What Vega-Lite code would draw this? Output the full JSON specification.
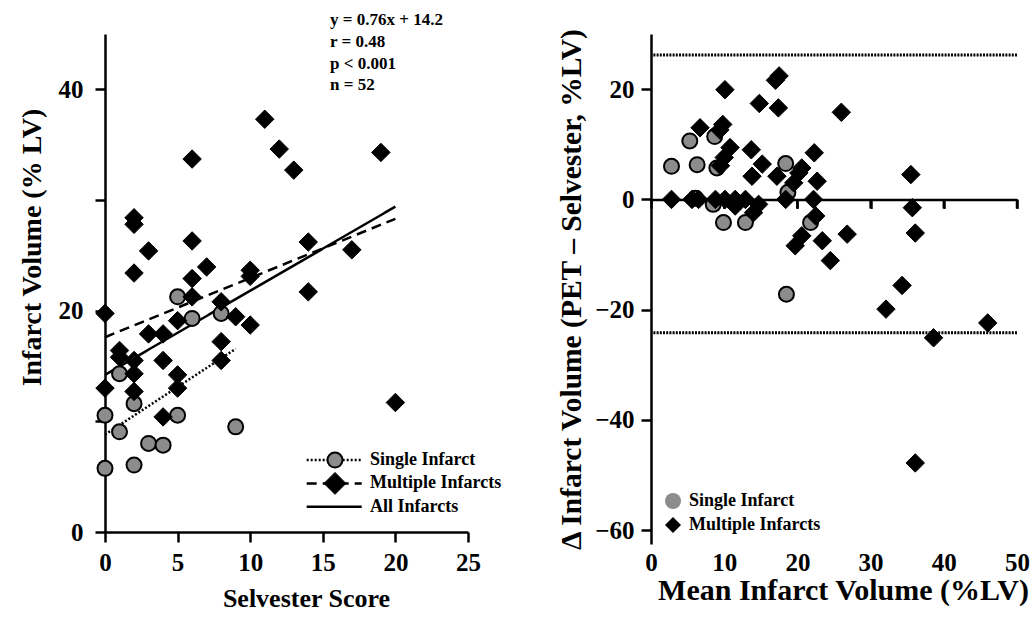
{
  "$schema": "https://vega.github.io/schema/vega-lite/v6.json",
  "background": "white",
  "padding": {"left": 18, "top": 11, "right": 5, "bottom": 5},
  "bounds": "flush",
  "spacing": 183,
  "resolve": {"scale": {"shape": "independent", "fill": "independent", "strokeDash": "independent", "yOffset": "independent"}},
  "config": {
    "view": {"stroke": null},
    "font": "Liberation Serif",
    "axis": {
      "labelFont": "Liberation Serif", "labelFontWeight": "bold", "labelFontSize": 25, "labelColor": "black",
      "titleFont": "Liberation Serif", "titleFontWeight": "bold", "titleFontSize": 27, "titleColor": "black",
      "domainColor": "black", "domainWidth": 2.5, "tickColor": "black", "tickWidth": 2.5, "tickSize": 10,
      "grid": false, "labelFlush": false, "labelOverlap": false
    },
    "legend": {
      "labelFont": "Liberation Serif", "labelFontWeight": "bold", "labelFontSize": 18, "labelColor": "black",
      "symbolStrokeColor": "black", "symbolOpacity": 1
    }
  },
  "datasets": {
    "leftPts": [
      {"group": "Single Infarct", "score": 5, "volume": 21.25},
      {"group": "Single Infarct", "score": 6, "volume": 19.3},
      {"group": "Single Infarct", "score": 8, "volume": 19.75},
      {"group": "Single Infarct", "score": 1, "volume": 14.3},
      {"group": "Single Infarct", "score": 2, "volume": 11.6},
      {"group": "Single Infarct", "score": 0, "volume": 10.55},
      {"group": "Single Infarct", "score": 5, "volume": 10.55},
      {"group": "Single Infarct", "score": 9, "volume": 9.5},
      {"group": "Single Infarct", "score": 1, "volume": 9.05},
      {"group": "Single Infarct", "score": 3, "volume": 8.0},
      {"group": "Single Infarct", "score": 4, "volume": 7.85},
      {"group": "Single Infarct", "score": 0, "volume": 5.75},
      {"group": "Single Infarct", "score": 2, "volume": 6.05},
      {"group": "Multiple Infarcts", "score": 11, "volume": 37.3},
      {"group": "Multiple Infarcts", "score": 12, "volume": 34.6},
      {"group": "Multiple Infarcts", "score": 13, "volume": 32.7},
      {"group": "Multiple Infarcts", "score": 6, "volume": 33.7},
      {"group": "Multiple Infarcts", "score": 19, "volume": 34.3},
      {"group": "Multiple Infarcts", "score": 2, "volume": 28.4},
      {"group": "Multiple Infarcts", "score": 2, "volume": 27.8},
      {"group": "Multiple Infarcts", "score": 3, "volume": 25.4},
      {"group": "Multiple Infarcts", "score": 6, "volume": 26.3},
      {"group": "Multiple Infarcts", "score": 7, "volume": 23.95},
      {"group": "Multiple Infarcts", "score": 14, "volume": 26.2},
      {"group": "Multiple Infarcts", "score": 17, "volume": 25.5},
      {"group": "Multiple Infarcts", "score": 2, "volume": 23.4},
      {"group": "Multiple Infarcts", "score": 6, "volume": 22.9},
      {"group": "Multiple Infarcts", "score": 10, "volume": 23.65},
      {"group": "Multiple Infarcts", "score": 10, "volume": 23.1},
      {"group": "Multiple Infarcts", "score": 14, "volume": 21.7},
      {"group": "Multiple Infarcts", "score": 0, "volume": 19.75},
      {"group": "Multiple Infarcts", "score": 6, "volume": 21.25},
      {"group": "Multiple Infarcts", "score": 5, "volume": 19.1},
      {"group": "Multiple Infarcts", "score": 8, "volume": 20.8},
      {"group": "Multiple Infarcts", "score": 9, "volume": 19.45},
      {"group": "Multiple Infarcts", "score": 10, "volume": 18.7},
      {"group": "Multiple Infarcts", "score": 3, "volume": 17.9},
      {"group": "Multiple Infarcts", "score": 4, "volume": 17.9},
      {"group": "Multiple Infarcts", "score": 1, "volume": 16.4},
      {"group": "Multiple Infarcts", "score": 1, "volume": 15.8},
      {"group": "Multiple Infarcts", "score": 8, "volume": 17.2},
      {"group": "Multiple Infarcts", "score": 8, "volume": 15.5},
      {"group": "Multiple Infarcts", "score": 2, "volume": 15.5},
      {"group": "Multiple Infarcts", "score": 4, "volume": 15.5},
      {"group": "Multiple Infarcts", "score": 2, "volume": 14.3},
      {"group": "Multiple Infarcts", "score": 5, "volume": 14.2},
      {"group": "Multiple Infarcts", "score": 0, "volume": 13.0},
      {"group": "Multiple Infarcts", "score": 2, "volume": 12.7},
      {"group": "Multiple Infarcts", "score": 5, "volume": 13.0},
      {"group": "Multiple Infarcts", "score": 4, "volume": 10.4},
      {"group": "Multiple Infarcts", "score": 20, "volume": 11.7}
    ],
    "fits": [
      {"group": "Single Infarct", "score": 0, "volume": 8.8},
      {"group": "Single Infarct", "score": 9, "volume": 16.55},
      {"group": "Multiple Infarcts", "score": 0, "volume": 17.6},
      {"group": "Multiple Infarcts", "score": 20, "volume": 28.3},
      {"group": "All Infarcts", "score": 0, "volume": 14.2},
      {"group": "All Infarcts", "score": 20, "volume": 29.4}
    ],
    "legendItems": [
      {"item": "Single Infarct"},
      {"item": "Multiple Infarcts"},
      {"item": "All Infarcts"}
    ],
    "notes": [
      {"note": "y = 0.76x + 14.2"},
      {"note": "\u00a0r = 0.48"},
      {"note": "p < 0.001"},
      {"note": "n = 52"}
    ],
    "zeroTicks": [
      {"mean": 10}, {"mean": 20}, {"mean": 30}, {"mean": 40}, {"mean": 50}
    ],
    "rightPts": [
      {"group": "Single Infarct", "mean": 5.3, "diff": 10.6},
      {"group": "Single Infarct", "mean": 8.7, "diff": 11.4},
      {"group": "Single Infarct", "mean": 2.8, "diff": 6.0},
      {"group": "Single Infarct", "mean": 6.3, "diff": 6.3},
      {"group": "Single Infarct", "mean": 9.0, "diff": 5.7},
      {"group": "Single Infarct", "mean": 18.4, "diff": 6.5},
      {"group": "Single Infarct", "mean": 18.7, "diff": 1.3},
      {"group": "Single Infarct", "mean": 6.1, "diff": 0.2},
      {"group": "Single Infarct", "mean": 8.5, "diff": -0.9},
      {"group": "Single Infarct", "mean": 9.9, "diff": -4.2},
      {"group": "Single Infarct", "mean": 12.9, "diff": -4.2},
      {"group": "Single Infarct", "mean": 21.8, "diff": -4.2},
      {"group": "Single Infarct", "mean": 18.5, "diff": -17.2},
      {"group": "Multiple Infarcts", "mean": 10.1, "diff": 19.9},
      {"group": "Multiple Infarcts", "mean": 17.0, "diff": 21.6},
      {"group": "Multiple Infarcts", "mean": 17.5, "diff": 22.4},
      {"group": "Multiple Infarcts", "mean": 14.8, "diff": 17.4},
      {"group": "Multiple Infarcts", "mean": 17.4, "diff": 16.6},
      {"group": "Multiple Infarcts", "mean": 26.0, "diff": 15.8},
      {"group": "Multiple Infarcts", "mean": 6.7, "diff": 13.0},
      {"group": "Multiple Infarcts", "mean": 9.8, "diff": 13.6},
      {"group": "Multiple Infarcts", "mean": 9.4, "diff": 12.6},
      {"group": "Multiple Infarcts", "mean": 10.8, "diff": 9.4},
      {"group": "Multiple Infarcts", "mean": 10.0, "diff": 7.6},
      {"group": "Multiple Infarcts", "mean": 9.5, "diff": 6.1},
      {"group": "Multiple Infarcts", "mean": 13.7, "diff": 9.0},
      {"group": "Multiple Infarcts", "mean": 22.3, "diff": 8.45},
      {"group": "Multiple Infarcts", "mean": 15.2, "diff": 6.4},
      {"group": "Multiple Infarcts", "mean": 20.6, "diff": 5.7},
      {"group": "Multiple Infarcts", "mean": 13.8, "diff": 4.2},
      {"group": "Multiple Infarcts", "mean": 17.2, "diff": 4.2},
      {"group": "Multiple Infarcts", "mean": 20.2, "diff": 4.8},
      {"group": "Multiple Infarcts", "mean": 19.5, "diff": 3.0},
      {"group": "Multiple Infarcts", "mean": 22.7, "diff": 3.3},
      {"group": "Multiple Infarcts", "mean": 35.5, "diff": 4.5},
      {"group": "Multiple Infarcts", "mean": 2.8, "diff": 0},
      {"group": "Multiple Infarcts", "mean": 5.6, "diff": 0},
      {"group": "Multiple Infarcts", "mean": 6.5, "diff": 0},
      {"group": "Multiple Infarcts", "mean": 8.8, "diff": 0},
      {"group": "Multiple Infarcts", "mean": 10.1, "diff": 0},
      {"group": "Multiple Infarcts", "mean": 11.5, "diff": 0},
      {"group": "Multiple Infarcts", "mean": 12.9, "diff": 0},
      {"group": "Multiple Infarcts", "mean": 18.4, "diff": 0},
      {"group": "Multiple Infarcts", "mean": 22.2, "diff": 0},
      {"group": "Multiple Infarcts", "mean": 11.5, "diff": -1.2},
      {"group": "Multiple Infarcts", "mean": 14.7, "diff": -0.9},
      {"group": "Multiple Infarcts", "mean": 14.0, "diff": -2.4},
      {"group": "Multiple Infarcts", "mean": 35.7, "diff": -1.5},
      {"group": "Multiple Infarcts", "mean": 22.5, "diff": -3.0},
      {"group": "Multiple Infarcts", "mean": 20.6, "diff": -6.6},
      {"group": "Multiple Infarcts", "mean": 19.7, "diff": -8.4},
      {"group": "Multiple Infarcts", "mean": 23.4, "diff": -7.5},
      {"group": "Multiple Infarcts", "mean": 26.8, "diff": -6.3},
      {"group": "Multiple Infarcts", "mean": 36.1, "diff": -6.1},
      {"group": "Multiple Infarcts", "mean": 24.5, "diff": -11.1},
      {"group": "Multiple Infarcts", "mean": 34.3, "diff": -15.6},
      {"group": "Multiple Infarcts", "mean": 32.1, "diff": -19.9},
      {"group": "Multiple Infarcts", "mean": 38.6, "diff": -25.1},
      {"group": "Multiple Infarcts", "mean": 46.0, "diff": -22.4},
      {"group": "Multiple Infarcts", "mean": 36.1, "diff": -47.8}
    ],
    "limits": [
      {"limit": "upper", "diff": 26.2},
      {"limit": "lower", "diff": -24.2}
    ]
  },
  "hconcat": [
    {
      "width": 363,
      "height": 498,
      "resolve": {"scale": {"yOffset": "independent"}},
      "layer": [
        {
          "data": {"name": "fits"},
          "mark": {"type": "line", "color": "black", "strokeWidth": 2.5},
          "encoding": {
            "x": {"field": "score", "type": "quantitative", "scale": {"domain": [0, 25], "nice": false},
                  "axis": {"values": [0, 5, 10, 15, 20, 25], "title": "Selvester Score", "titleFontSize": 26, "titleX": 201, "labelPadding": 8, "titlePadding": 10}},
            "y": {"field": "volume", "type": "quantitative", "scale": {"domain": [0, 45], "nice": false},
                  "axis": {"values": [0, 10, 20, 30, 40], "labelExpr": "datum.value % 20 === 0 ? datum.label : ''", "title": "Infarct Volume (% LV)", "titleFontSize": 28, "titleY": 213, "labelPadding": 12, "titlePadding": 12}},
            "detail": {"field": "group"},
            "strokeDash": {"field": "group", "type": "nominal",
              "scale": {"domain": ["Single Infarct", "Multiple Infarcts", "All Infarcts"], "range": [[2, 2], [10, 6], [1, 0]]},
              "legend": null}
          }
        },
        {
          "data": {"name": "leftPts"},
          "transform": [{"filter": "datum.group === 'Single Infarct'"}],
          "mark": {"type": "point", "shape": "circle", "filled": true, "fill": "#8c8c8c", "stroke": "black", "strokeWidth": 2, "size": 225, "opacity": 1},
          "encoding": {
            "x": {"field": "score", "type": "quantitative"},
            "y": {"field": "volume", "type": "quantitative"}
          }
        },
        {
          "data": {"name": "leftPts"},
          "transform": [{"filter": "datum.group === 'Multiple Infarcts'"}],
          "mark": {"type": "point", "shape": "diamond", "filled": true, "fill": "black", "stroke": "black", "strokeWidth": 1, "size": 340, "opacity": 1},
          "encoding": {
            "x": {"field": "score", "type": "quantitative"},
            "y": {"field": "volume", "type": "quantitative"}
          }
        },
        {
          "data": {"name": "legendItems"},
          "layer": [
            {
              "mark": {"type": "rule", "color": "black", "strokeWidth": 2.5},
              "encoding": {
                "x": {"datum": 13.89, "type": "quantitative"},
                "x2": {"datum": 17.68},
                "y": {"datum": 6.5, "type": "quantitative"},
                "yOffset": {"field": "item", "type": "nominal", "sort": null,
                  "scale": {"type": "point", "domain": ["Single Infarct", "Multiple Infarcts", "All Infarcts"], "range": [0, 46.7], "padding": 0}},
                "strokeDash": {"field": "item", "type": "nominal",
                  "scale": {"domain": ["Single Infarct", "Multiple Infarcts", "All Infarcts"], "range": [[2, 2], [8, 8], [1, 0]]},
                  "legend": null}
              }
            },
            {
              "transform": [{"filter": "datum.item === 'Single Infarct'"}],
              "mark": {"type": "point", "shape": "circle", "filled": true, "fill": "#8c8c8c", "stroke": "black", "strokeWidth": 2, "size": 225, "opacity": 1},
              "encoding": {
                "x": {"datum": 15.84, "type": "quantitative"},
                "y": {"datum": 6.5, "type": "quantitative"},
                "yOffset": {"field": "item", "type": "nominal", "sort": null,
                  "scale": {"type": "point", "domain": ["Single Infarct", "Multiple Infarcts", "All Infarcts"], "range": [0, 46.7], "padding": 0}}
              }
            },
            {
              "transform": [{"filter": "datum.item === 'Multiple Infarcts'"}],
              "mark": {"type": "point", "shape": "diamond", "filled": true, "fill": "black", "stroke": "black", "strokeWidth": 1, "size": 480, "opacity": 1},
              "encoding": {
                "x": {"datum": 15.84, "type": "quantitative"},
                "y": {"datum": 6.5, "type": "quantitative"},
                "yOffset": {"field": "item", "type": "nominal", "sort": null,
                  "scale": {"type": "point", "domain": ["Single Infarct", "Multiple Infarcts", "All Infarcts"], "range": [0, 46.7], "padding": 0}}
              }
            },
            {
              "mark": {"type": "text", "align": "left", "baseline": "middle", "font": "Liberation Serif", "fontWeight": "bold", "fontSize": 18, "color": "black"},
              "encoding": {
                "x": {"datum": 18.25, "type": "quantitative"},
                "y": {"datum": 6.5, "type": "quantitative"},
                "yOffset": {"field": "item", "type": "nominal", "sort": null,
                  "scale": {"type": "point", "domain": ["Single Infarct", "Multiple Infarcts", "All Infarcts"], "range": [0, 46.7], "padding": 0}},
                "text": {"field": "item", "type": "nominal"}
              }
            }
          ]
        },
        {
          "data": {"name": "notes"},
          "mark": {"type": "text", "align": "left", "baseline": "alphabetic", "font": "Liberation Serif", "fontWeight": "bold", "fontSize": 17, "color": "black"},
          "encoding": {
            "x": {"datum": 15.5, "type": "quantitative"},
            "y": {"datum": 45.78, "type": "quantitative"},
            "yOffset": {"field": "note", "type": "nominal", "sort": null,
              "scale": {"type": "point", "domain": ["y = 0.76x + 14.2", "\u00a0r = 0.48", "p < 0.001", "n = 52"], "range": [0, 65.1], "padding": 0}},
            "text": {"field": "note", "type": "nominal"}
          }
        }
      ]
    },
    {
      "width": 366,
      "height": 510,
      "layer": [
        {
          "data": {"name": "limits"},
          "mark": {"type": "rule", "color": "black", "strokeWidth": 3, "strokeDash": [2, 1.2]},
          "encoding": {
            "y": {"field": "diff", "type": "quantitative", "scale": {"domain": [-62.5, 30], "nice": false},
                  "axis": {"values": [-60, -40, -20, 0, 20], "title": "Δ Infarct Volume (PET – Selvester, %LV)", "titleFontSize": 29.5, "labelPadding": 7, "titlePadding": 8}}
          }
        },
        {
          "data": {"name": "zeroTicks"},
          "mark": {"type": "rule", "color": "black", "strokeWidth": 2.5},
          "encoding": {
            "x": {"field": "mean", "type": "quantitative"},
            "y": {"datum": 0, "type": "quantitative"},
            "y2": {"datum": -1.63}
          }
        },
        {
          "data": {"name": "rightPts"},
          "transform": [{"filter": "datum.group === 'Single Infarct'"}],
          "mark": {"type": "point", "filled": true, "stroke": "black", "strokeWidth": 2, "size": 225, "opacity": 1},
          "encoding": {
            "x": {"field": "mean", "type": "quantitative", "scale": {"domain": [0, 50], "nice": false},
                  "axis": {"orient": "bottom", "offset": -344.6, "values": [0, 10, 20, 30, 40, 50], "domain": true, "ticks": true, "tickSize": 9, "labelPadding": 341.6, "title": "Mean Infarct Volume (%LV)", "titleFontSize": 30, "titleX": 192, "titleY": 400, "titleBaseline": "alphabetic", "titlePadding": 0}},
            "y": {"field": "diff", "type": "quantitative"},
            "shape": {"field": "group", "type": "nominal", "scale": {"domain": ["Single Infarct", "Multiple Infarcts"], "range": ["circle", "diamond"]},
                      "legend": {"orient": "none", "legendX": 13, "legendY": 458, "title": null, "symbolSize": 256, "symbolStrokeWidth": 2, "labelOffset": 7, "rowPadding": 0}},
            "fill": {"field": "group", "type": "nominal", "scale": {"domain": ["Single Infarct", "Multiple Infarcts"], "range": ["#8c8c8c", "#000000"]},
                     "legend": {"orient": "none", "legendX": 13, "legendY": 458, "title": null, "symbolSize": 256, "symbolStrokeWidth": 2, "labelOffset": 7, "rowPadding": 0}}
          }
        },
        {
          "data": {"name": "rightPts"},
          "transform": [{"filter": "datum.group === 'Multiple Infarcts'"}],
          "mark": {"type": "point", "filled": true, "stroke": "black", "strokeWidth": 1, "size": 340, "opacity": 1},
          "encoding": {
            "x": {"field": "mean", "type": "quantitative"},
            "y": {"field": "diff", "type": "quantitative"},
            "shape": {"field": "group", "type": "nominal", "scale": {"domain": ["Single Infarct", "Multiple Infarcts"], "range": ["circle", "diamond"]}},
            "fill": {"field": "group", "type": "nominal", "scale": {"domain": ["Single Infarct", "Multiple Infarcts"], "range": ["#8c8c8c", "#000000"]}}
          }
        }
      ]
    }
  ]
}
